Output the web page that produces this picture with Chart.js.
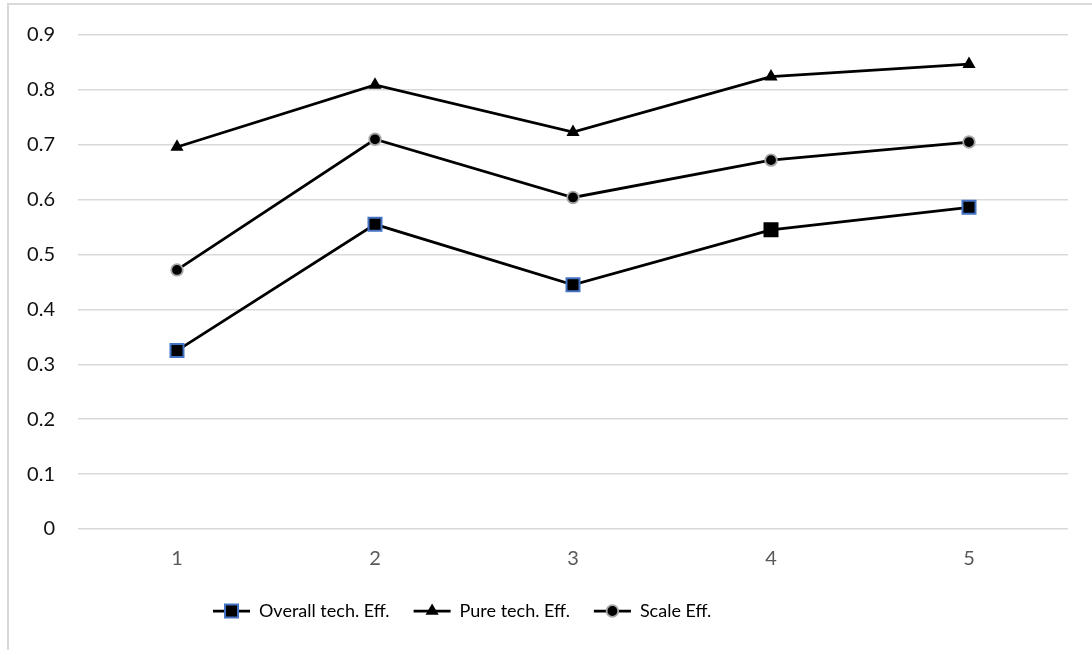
<!DOCTYPE html>
<html>
<head>
<meta charset="utf-8">
<script src="https://cdn.jsdelivr.net/npm/chart.js@4/dist/chart.umd.min.js"></script>
<style>
  html, body { margin: 0; padding: 0; background: #ffffff; }
  #wrap { position: relative; width: 1092px; height: 650px; overflow: hidden; }
  #frame { position: absolute; left: 7px; top: 3px; width: 1200px; height: 800px;
           border-left: 2px solid #d9d9d9; border-top: 2px solid #d9d9d9; }
  canvas { position: absolute; left: 0; top: 0; }
</style>
</head>
<body>
<div id="wrap">
  <div id="frame"></div>
  <canvas id="c" width="1092" height="650"></canvas>
</div>
<script>
const categories = ['1', '2', '3', '4', '5'];
const overallTechEff = [0.325, 0.555, 0.445, 0.545, 0.586];
const pureTechEff = [0.696, 0.809, 0.723, 0.824, 0.847];
const scaleEff = [0.472, 0.710, 0.604, 0.672, 0.705];
const seriesNames = ['Overall tech. Eff.', 'Pure tech. Eff.', 'Scale Eff.'];

const TICK_FONT = 'Lato, "Open Sans", sans-serif';
const LEGEND_FONT = 'Lato, "Open Sans", sans-serif';

function drawMarker(ctx, style, x, y, fill, stroke, bw, r) {
  ctx.save();
  ctx.fillStyle = fill;
  ctx.strokeStyle = stroke;
  ctx.lineWidth = bw;
  ctx.beginPath();
  if (style === 'rect') {
    const s = r * Math.SQRT1_2;
    ctx.rect(x - s, y - s, 2 * s, 2 * s);
  } else if (style === 'triangle') {
    ctx.moveTo(x, y - r);
    ctx.lineTo(x + r * Math.sqrt(3) / 2, y + r / 2);
    ctx.lineTo(x - r * Math.sqrt(3) / 2, y + r / 2);
    ctx.closePath();
  } else {
    ctx.arc(x, y, r, 0, Math.PI * 2);
  }
  ctx.fill();
  if (bw > 0) ctx.stroke();
  ctx.restore();
}

const legendLines = {
  id: 'legendLines',
  afterLayout(chart) {
    const lg = chart.legend;
    if (lg) { lg.left = 213 - chart.options.plugins.legend.labels.padding; }
  },
  afterDraw(chart) {
    const lg = chart.legend;
    if (!lg || !lg.legendHitBoxes) return;
    const ctx = chart.ctx;
    const bw = chart.options.plugins.legend.labels.boxWidth;
    lg.legendHitBoxes.forEach((hb, i) => {
      const ds = chart.data.datasets[i];
      const cy = hb.top + hb.height / 2;
      ctx.save();
      ctx.strokeStyle = '#000';
      ctx.lineWidth = 2.75;
      ctx.beginPath();
      ctx.moveTo(hb.left, cy);
      ctx.lineTo(hb.left + bw, cy);
      ctx.stroke();
      ctx.restore();
      const bc = Array.isArray(ds.pointBorderColor) ? ds.pointBorderColor[0] : ds.pointBorderColor;
      drawMarker(ctx, ds.pointStyle, hb.left + bw / 2, cy, ds.pointBackgroundColor, bc, ds.pointBorderWidth, ds.legendRadius);
    });
  }
};

new Chart(document.getElementById('c'), {
  type: 'line',
  data: {
    labels: categories,
    datasets: [
      {
        label: seriesNames[0], data: overallTechEff,
        borderColor: '#000', borderWidth: 2.75,
        pointStyle: 'rect', pointRadius: 9.2, pointHoverRadius: 9.2,
        pointBackgroundColor: '#000',
        pointBorderColor: ['#4472C4', '#4472C4', '#4472C4', '#000000', '#4472C4'],
        pointBorderWidth: 2, legendRadius: 9.2
      },
      {
        label: seriesNames[1], data: pureTechEff,
        borderColor: '#000', borderWidth: 2.75,
        pointStyle: 'triangle', pointRadius: 7.6, pointHoverRadius: 7.6,
        pointBackgroundColor: '#000', pointBorderColor: '#000',
        pointBorderWidth: 0, legendRadius: 7.6
      },
      {
        label: seriesNames[2], data: scaleEff,
        borderColor: '#000', borderWidth: 2.75,
        pointStyle: 'circle', pointRadius: 5.8, pointHoverRadius: 5.8,
        pointBackgroundColor: '#000', pointBorderColor: '#a6a6a6',
        pointBorderWidth: 1.8, legendRadius: 5.8
      }
    ]
  },
  options: {
    responsive: false,
    animation: false,
    layout: { padding: { top: 32, right: 24, bottom: 20, left: 0 } },
    scales: {
      x: {
        offset: true,
        grid: { display: false, drawTicks: false },
        border: { display: false },
        ticks: { color: '#595959', font: { family: TICK_FONT, size: 20 }, padding: 18 },
        afterFit(s) { s.height = 49; }
      },
      y: {
        min: 0, max: 0.9,
        grid: { color: '#d9d9d9', lineWidth: 1.5, drawTicks: false },
        border: { display: false },
        ticks: {
          stepSize: 0.1, color: '#111111', font: { family: TICK_FONT, size: 20 }, padding: 23,
          callback: (v) => (Math.round(v * 10) / 10).toString()
        },
        afterFit(s) { s.width = 78; }
      }
    },
    plugins: {
      tooltip: { enabled: false },
      legend: {
        position: 'bottom',
        align: 'start',
        labels: {
          boxWidth: 37, boxHeight: 14, padding: 24,
          color: '#000', font: { family: LEGEND_FONT, size: 18 },
          generateLabels(chart) {
            return chart.data.datasets.map((ds, i) => ({
              text: ds.label, fillStyle: 'rgba(0,0,0,0)', strokeStyle: 'rgba(0,0,0,0)',
              lineWidth: 0, hidden: false, datasetIndex: i, fontColor: '#000'
            }));
          }
        }
      }
    }
  },
  plugins: [legendLines]
});
</script>
</body>
</html>
